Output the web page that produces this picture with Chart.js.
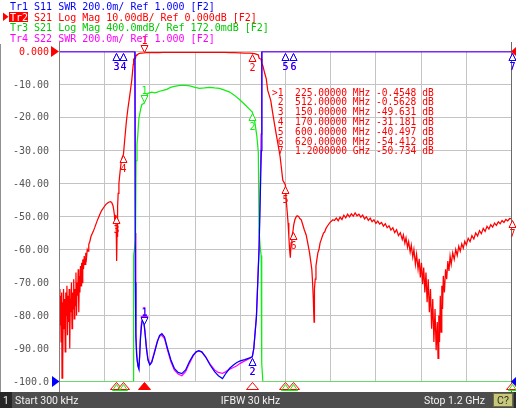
<!DOCTYPE html>
<html><head><meta charset="utf-8">
<script src="https://cdn.jsdelivr.net/npm/chart.js@4/dist/chart.umd.min.js"></script>
<style>html,body{margin:0;padding:0;background:#fff;overflow:hidden}canvas{display:block}</style>
</head><body>
<canvas id="c" width="516" height="408"></canvas>
<script>
// ---------- sweep ----------
const xStartMHz = 0.3;
const xStopMHz = 1200;
const xDivisions = 10;

// ---------- Tr2 / Tr3 : S21 (dB) ----------
const s21Freq = [
0.3,1.5,3,4.5,6,7,8,9.5,11,12.5,14,15.5,17,18.5,20,21.5,23,24.5,26,27.5,29,30.5,32,33.5,35,36.5,38,39.5,41,42.5,44,45.5,47,48.5,50,51.5,53,54.5,56,57.5,59,60.5,
62,64,66,68,70,72,74,76,78,81,84,87,90,94,98,102,107,112,118,123,128,132,136,139,142,144,146,147.5,149,150,151,152,153,154.5,156,158,161,164,167,170,174,178,182,185,189,192,195,196,197,200,202,203.5,206,208,211,216,219,225,230,235,245,253,260,266,275,285,295,305,320,335,346,360,372,385,399,412,425,440,452,465,478,492,505,512,518,524,528,530,533,535.5,537,540,545,549,553,557,561,566,571,577,583,586,589,593,597,600,602,605,607,609,611,613,615,617,620,622,625,628,631,635,638,642,646,650,655,660,664,667,670,672,674,675,676,677,679,681,683.5,686,689,692,695,698,701,704,708,712,717,721,726,730,
735,740,745,750,755,760,765,770,775,780,785,790,795,800,805,810,815,820,825,830,835,840,845,850,855,860,865,870,875,880,885,890,895,900,905,910,913,917,920,924,927,931,934,938,941,945,948,952,955,958,961,964,967,970,973,976,979,982,985,988,991,994,997,1000,1003,1005,1007,1009,1011,1013,1015,1017,1019,1022,1025,1028,1031,1034,1037,1040,1044,1048,1052,1056,1060,1064,1068,1072,1076,1080,1085,1090,1095,1100,1105,1110,1115,1120,1125,1130,1135,1140,1145,1150,1155,1160,1165,1170,1175,1180,1185,1190,1195,1200];
const s21Db = [
-72,-83,-74,-88,-73,-99,-76,-95,-72,-84,-75,-91,-73,-80,-71,-86,-74,-82,-72,-90,-75,-79,-70,-84,-73,-78,-69,-81,-72,-77,-67,-80,-70,-74,-66,-79,-68,-73,-65,-71,-64,-70,
-63,-66,-62,-64.5,-61,-62.5,-60,-60.5,-58.5,-57.5,-56,-55.2,-54.5,-53.3,-52,-50.8,-49.5,-48.2,-47.2,-46.4,-45.9,-45.6,-45.5,-45.8,-46.6,-47.8,-49.5,-52,-50.5,-49.631,-55,-63.5,-56,-47,-43,-40,-36.5,-33.5,-32,-31.181,-26,-21,-17.2,-14.8,-11.5,-8.8,-5.2,-3.9,-2.3,-2.2,-2.1,-1.15,-0.95,-0.85,-0.64,-0.52,-0.47,-0.4548,-0.37,-0.335,-0.32,-0.33,-0.32,-0.31,-0.30,-0.287,-0.263,-0.25,-0.24,-0.238,-0.245,-0.262,-0.275,-0.27,-0.263,-0.27,-0.275,-0.30,-0.32,-0.36,-0.41,-0.47,-0.53,-0.5628,-0.66,-0.85,-1.05,-2.0,-2.2,-2.3,-3.6,-4.3,-6.6,-8.2,-11.8,-13.3,-14.8,-18.5,-22,-26,-29.9,-32,-35,-39,-39.8,-40.497,-45,-49,-52,-56,-60,-62.5,-58,-56,-54.412,-52.5,-51,-50.2,-49.8,-50,-50.6,-51,-52.5,-54,-55.6,-58.5,-61,-63.5,-66,-70,-75,-79,-82,-72,-69,-65,-63,-61,-60,-58,-57,-56,-55,-54.7,-53.5,-52.8,-52,-51.5,-51,-51.2,
-50.5,-51.3,-50.2,-50.9,-49.6,-50.4,-49.3,-50.1,-49.2,-49.9,-48.9,-49.8,-49.3,-50.2,-49.6,-50.7,-50.1,-51.2,-50.5,-51.6,-51.0,-52.1,-51.4,-52.3,-51.8,-52.9,-52.2,-53.4,-52.8,-54.1,-53.4,-54.9,-54.0,-55.8,-54.9,-57.0,-55.6,-58.1,-56.5,-59.3,-57.6,-60.8,-58.7,-62.3,-60.0,-64.5,-61.5,-66.0,-62.8,-68.5,-64.0,-70.5,-65.5,-73.0,-67.0,-76.0,-69.0,-79.0,-72.0,-84.0,-75.0,-88.0,-78.0,-90.5,-82.0,-93.0,-80.0,-88.0,-74.0,-85.0,-71.0,-78.0,-68.0,-73.0,-66.0,-69.0,-63.5,-66.5,-62.0,-64.5,-61.0,-63.0,-60.0,-61.8,-59.0,-60.5,-58.3,-59.6,-57.5,-58.6,-56.6,-57.6,-55.8,-56.8,-55.0,-55.9,-54.3,-55.2,-53.6,-54.5,-53.0,-53.8,-52.5,-53.2,-52.0,-52.7,-51.6,-52.2,-51.2,-51.8,-50.9,-51.3,-50.6,-50.73];

// ---------- Tr1 : S11 SWR (3.0 = above top of display) ----------
const s11Freq = [0.3,200.5,201.5,203,205,207,209,211,213,215,218,221,224,227,231,235,240,245,252,260,266,272,279,287,296,305,315,325,335,345,355,363,370,378,388,400,412,422,433,442,452,462,471,480,492,505,512,516,523,530,536,537.5,1200];
const s11Swr  = [3.0,3.0,1.6,1.27,1.16,1.12,1.09,1.075,1.15,1.25,1.34,1.375,1.36,1.3,1.2,1.13,1.10,1.115,1.17,1.24,1.28,1.29,1.27,1.2,1.13,1.08,1.055,1.048,1.07,1.12,1.16,1.18,1.187,1.18,1.15,1.1,1.06,1.035,1.018,1.05,1.08,1.1,1.115,1.125,1.133,1.143,1.15,1.2,1.39,1.8,2.4,3.0,3.0];

// ---------- Tr4 : S22 SWR ----------
const s22Freq = [0.3,200.5,201.8,203,205,207,209,211,213,215,218,221,224,227,231,235,240,245,252,260,266,272,279,287,296,305,315,325,335,345,355,363,370,378,388,400,412,422,433,442,452,462,471,480,492,505,512,516,523,530,535.5,537,1200];
const s22Swr  = [3.0,3.0,1.9,1.3,1.18,1.12,1.09,1.08,1.16,1.27,1.36,1.39,1.37,1.31,1.21,1.14,1.105,1.12,1.18,1.245,1.275,1.28,1.26,1.19,1.12,1.07,1.045,1.035,1.06,1.11,1.155,1.178,1.185,1.178,1.15,1.105,1.07,1.055,1.05,1.06,1.075,1.085,1.095,1.11,1.125,1.14,1.15,1.2,1.4,1.82,2.5,3.0,3.0];

// ---------- markers ----------
const markerFreqs = [225, 512, 150, 170, 600, 620, 1200];
const markerS21 = [-0.4548, -0.5628, -49.631, -31.181, -40.497, -54.412, -50.734];
const activeMarker = 0;

// ---------- axis labels ----------
const yTickValues = [0,-10,-20,-30,-40,-50,-60,-70,-80,-90,-100];
const yTickLabels = ["0.000","-10.00","-20.00","-30.00","-40.00","-50.00","-60.00","-70.00","-80.00","-90.00","-100.0"];

const headerLines = [
  "Tr1 S11 SWR 200.0m/ Ref 1.000 [F2]",
  "Tr2 S21 Log Mag 10.00dB/ Ref 0.000dB [F2]",
  "Tr3 S21 Log Mag 400.0mdB/ Ref 172.0mdB [F2]",
  "Tr4 S22 SWR 200.0m/ Ref 1.000 [F2]"
];
const footer = {start:"Start 300 kHz", ifbw:"IFBW 30 kHz", stop:"Stop 1.2 GHz"};

// ---------- scales ----------
const dbRange = [-100, 0];
const zoomRange = [0.172 - 4.0, 0.172];
const swrRange = [1.0, 3.0];

const COL = {blue:'#0000ff', red:'#ff0000', green:'#11ee11', greenText:'#00c800', mag:'#ff00ff', grid:'#c4c4c4'};

const clamp = (v,a,b)=>Math.max(a,Math.min(b,v));
const pts = (fs,vs,r)=>fs.map((f,i)=>({x:f,y:clamp(vs[i],r[0],r[1])}));
function interp(fs,vs,f){
  for(let i=1;i<fs.length;i++){ if(fs[i]>=f){ const t=(f-fs[i-1])/(fs[i]-fs[i-1]||1); return vs[i-1]+t*(vs[i]-vs[i-1]); } }
  return vs[vs.length-1];
}
const xGridValues = Array.from({length:xDivisions+1},(_,k)=>xStartMHz+k*(xStopMHz-xStartMHz)/xDivisions);

const MONO = "'DejaVu Sans Mono', monospace";

function tri(ctx,x,y,up,hw,h,color,fill){
  ctx.beginPath();
  if(up){ ctx.moveTo(x,y); ctx.lineTo(x-hw,y+h); ctx.lineTo(x+hw,y+h); }
  else { ctx.moveTo(x,y); ctx.lineTo(x-hw,y-h); ctx.lineTo(x+hw,y-h); }
  ctx.closePath();
  if(fill){ ctx.fillStyle=color; ctx.fill(); }
  else { ctx.fillStyle='#fff'; ctx.fill(); }
  ctx.strokeStyle=color; ctx.lineWidth=1; ctx.stroke();
}
function drawMarker(ctx,x,y,color,label,active){
  const px=Math.round(x)+0.5, py=Math.round(y)+0.5;
  ctx.font="10px "+MONO; ctx.textAlign='center'; ctx.textBaseline='alphabetic'; 
  if(active){
    tri(ctx,px,py-1,false,3.5,7,color,false);
    ctx.fillStyle=color; ctx.fillText(label,px,py-10);
  } else {
    tri(ctx,px,py+1,true,3.5,7,color,false);
    ctx.fillStyle=color; ctx.fillText(label,px,py+17);
  }
}

const decor = {
  id:'decor',
  afterDraw(chart){
    const ctx=chart.ctx, xs=chart.scales.x, yd=chart.scales.yDb, yz=chart.scales.yZoom, ys=chart.scales.ySwr;
    ctx.save();
    // frame
    ctx.strokeStyle='#808080'; ctx.lineWidth=1;
    ctx.beginPath(); ctx.moveTo(59.5,42); ctx.lineTo(59.5,392); ctx.stroke();
    ctx.strokeStyle='#6a6a6a';
    ctx.beginPath(); ctx.moveTo(511.5,42); ctx.lineTo(511.5,392); ctx.stroke();
    ctx.strokeStyle='#909090';
    ctx.beginPath(); ctx.moveTo(0.5,44); ctx.lineTo(0.5,392); ctx.stroke();

    // markers
    markerFreqs.forEach((f,i)=>{
      const v=clamp(interp(s22Freq,s22Swr,f),swrRange[0],swrRange[1]);
      drawMarker(ctx,xs.getPixelForValue(f),ys.getPixelForValue(v),COL.mag,String(i+1),i===activeMarker);
    });
    markerFreqs.forEach((f,i)=>{
      const v=clamp(markerS21[i],zoomRange[0],zoomRange[1]);
      drawMarker(ctx,xs.getPixelForValue(f),yz.getPixelForValue(v),COL.green,String(i+1),i===activeMarker);
    });
    markerFreqs.forEach((f,i)=>{
      const v=clamp(markerS21[i],dbRange[0],dbRange[1]);
      drawMarker(ctx,xs.getPixelForValue(f),yd.getPixelForValue(v),COL.red,String(i+1),i===activeMarker);
    });
    markerFreqs.forEach((f,i)=>{
      const v=clamp(interp(s11Freq,s11Swr,f),swrRange[0],swrRange[1]);
      drawMarker(ctx,xs.getPixelForValue(f),ys.getPixelForValue(v),COL.blue,String(i+1),i===activeMarker);
    });
    // stimulus indicators under the grid
    markerFreqs.forEach((f,i)=>{
      const px=Math.round(xs.getPixelForValue(f))+0.5;
      tri(ctx,px,382.5,true,6,7,COL.red,i===activeMarker);
    });
    markerFreqs.forEach((f,i)=>{
      if(markerS21[i]<zoomRange[0]){
        const px=Math.round(xs.getPixelForValue(f))+0.5;
        ctx.beginPath(); ctx.moveTo(px,384.5); ctx.lineTo(px-4,390.5); ctx.lineTo(px+4,390.5); ctx.closePath();
        ctx.strokeStyle=COL.green; ctx.stroke();
      }
    });

    // reference triangles
    const fillTri=(a,b,c,col)=>{ctx.beginPath();ctx.moveTo(...a);ctx.lineTo(...b);ctx.lineTo(...c);ctx.closePath();ctx.fillStyle=col;ctx.fill();};
    const yTop=yd.getPixelForValue(0), yBot=yd.getPixelForValue(-100);
    fillTri([51,yTop-5.5],[51,yTop+5.5],[59,yTop],COL.red);
    fillTri([52,yBot-5.5],[52,yBot+5.5],[59.5,yBot],COL.blue);
    fillTri([517,yTop-5.5],[517,yTop+5.5],[511,yTop],COL.red);
    fillTri([517,yBot-5.5],[517,yBot+5.5],[511,yBot],COL.blue);

    // y labels
    ctx.font="10px "+MONO; ctx.textAlign='right'; ctx.textBaseline='middle';
    yTickValues.forEach((v,i)=>{
      ctx.fillStyle = i===0 ? COL.red : '#555555';
      ctx.fillText(yTickLabels[i],49,Math.round(yd.getPixelForValue(v))+0.5);
    });

    // header
    ctx.textAlign='left'; ctx.textBaseline='alphabetic'; ctx.font="10px "+MONO;
    const hcol=[COL.blue,COL.red,COL.greenText,COL.mag];
    const hy=[10,20.7,31.3,42];
    headerLines.forEach((t,i)=>{
      if(i===1){
        ctx.fillStyle=COL.red; ctx.fillRect(9,12,19,10);
        fillTri([3,12.5],[3,21],[8.5,16.75],COL.red);
        ctx.fillStyle='#fff'; ctx.fillText(t.slice(0,3),10,hy[i]);
        ctx.fillStyle=COL.red; ctx.fillText(t.slice(3),10+ctx.measureText(t.slice(0,3)).width,hy[i]);
      } else { ctx.fillStyle=hcol[i]; ctx.fillText(t,10,hy[i]); }
    });

    // marker table
    ctx.font="9.6px "+MONO; ctx.fillStyle=COL.red;
    markerFreqs.forEach((f,i)=>{
      const fs = f<1000 ? f.toFixed(5)+" MHz" : (f/1000).toFixed(7)+" GHz";
      const v = markerS21[i];
      const vs = v.toFixed(Math.abs(v)<10?4:3);
      const line = (i===activeMarker?">":" ")+(i+1)+"  "+fs+" "+vs+" dB";
      ctx.fillText(line,272,95.5+i*9.83);
    });

    // footer bar
    ctx.fillStyle='#4d4d4d'; ctx.fillRect(0,392,516,16);
    ctx.fillStyle='#262626'; ctx.fillRect(0,392,12,16);
    ctx.fillStyle='#c8c87c'; ctx.fillRect(493,393,20,14);
    ctx.strokeStyle='#6e6e40'; ctx.strokeRect(493.5,393.5,19,13);
    ctx.fillStyle='#2a2a2a'; ctx.fillRect(514,392,2,16);
    ctx.font="10.5px Roboto, 'Liberation Sans', sans-serif"; ctx.textBaseline='alphabetic';
    ctx.fillStyle='#f2f2f2';
    ctx.textAlign='left'; ctx.fillText("1",3,403.5); ctx.fillText(footer.start,15,403.5);
    ctx.textAlign='center'; ctx.fillText(footer.ifbw,250.5,403.5);
    ctx.textAlign='right'; ctx.fillText(footer.stop,485,403.5);
    ctx.fillStyle='#303020'; ctx.textAlign='center'; ctx.fillText("C?",503,403.5);
    ctx.restore();
  }
};

const ds = (label,data,axis,color,order)=>({label,data,yAxisID:axis,borderColor:color,backgroundColor:color,borderWidth:1.25,pointRadius:0,tension:0,fill:false,order});

new Chart(document.getElementById('c'),{
  type:'line',
  data:{datasets:[
    ds('Tr1 S11 SWR',pts(s11Freq,s11Swr,swrRange),'ySwr',COL.blue,1),
    ds('Tr2 S21 Log Mag',pts(s21Freq,s21Db,dbRange),'yDb',COL.red,2),
    ds('Tr3 S21 Log Mag',pts(s21Freq,s21Db,zoomRange),'yZoom',COL.green,3),
    ds('Tr4 S22 SWR',pts(s22Freq,s22Swr,swrRange),'ySwr',COL.mag,4)
  ]},
  options:{
    responsive:false, animation:false, devicePixelRatio:1,
    layout:{padding:{left:59.5,right:4.5,top:51.5,bottom:26.5}},
    plugins:{legend:{display:false},tooltip:{enabled:false}},
    scales:{
      x:{type:'linear',min:xStartMHz,max:xStopMHz,
         afterBuildTicks:s=>{s.ticks=xGridValues.map(v=>({value:v}));},
         ticks:{display:false},grid:{color:COL.grid,drawTicks:false,lineWidth:1},border:{display:false},
         afterFit:s=>{s.height=0;}},
      yDb:{type:'linear',position:'left',min:dbRange[0],max:dbRange[1],
         afterBuildTicks:s=>{s.ticks=yTickValues.map(v=>({value:v}));},
         ticks:{display:false},grid:{color:COL.grid,drawTicks:false,lineWidth:1},border:{display:false},
         afterFit:s=>{s.width=0;}},
      yZoom:{type:'linear',display:false,min:zoomRange[0],max:zoomRange[1]},
      ySwr:{type:'linear',display:false,min:swrRange[0],max:swrRange[1]}
    }
  },
  plugins:[decor]
});
</script>
</body></html>
